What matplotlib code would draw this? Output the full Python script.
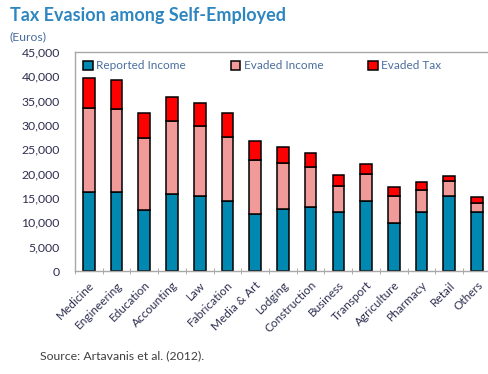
import numpy as np
import matplotlib
matplotlib.use("Agg")
import matplotlib.pyplot as plt
from matplotlib.ticker import FuncFormatter, FixedLocator

# professions and the three stacked components (euros)
professions = ["Medicine", "Engineering", "Education", "Accounting", "Law",
               "Fabrication", "Media & Art", "Lodging", "Construction",
               "Business", "Transport", "Agriculture", "Pharmacy", "Retail",
               "Others"]
reported_income = [16300, 16300, 12500, 15900, 15400, 14400, 11800, 12800,
                   13100, 12200, 14400, 9800, 12200, 15400, 12200]
evaded_income = [17200, 16900, 14800, 14900, 14400, 13200, 11100, 9400,
                 8200, 5300, 5600, 5600, 4400, 3100, 1800]
evaded_tax = [6100, 6100, 5200, 5000, 4700, 4900, 3800, 3200,
              2900, 2300, 2000, 1900, 1700, 1000, 1200]

plt.rcParams['font.family'] = ['Lato', 'DejaVu Sans']

c_rep = "#0088B0"
c_inc = "#F09A9A"
c_tax = "#FF0000"
text_blue = "#4A6E9E"
tick_col = "#2E2E50"

fig = plt.figure(figsize=(4.88, 3.74), dpi=100)
ax = fig.add_axes([0.1537, 0.2754, 0.852, 0.5856])

x = np.arange(len(professions))
rep = np.array(reported_income)
inc = np.array(evaded_income)
tax = np.array(evaded_tax)
w = 0.42
ax.bar(x, rep, w, color=c_rep, edgecolor="black", linewidth=1.1, label="Reported Income")
ax.bar(x, inc, w, bottom=rep, color=c_inc, edgecolor="black", linewidth=1.1, label="Evaded Income")
ax.bar(x, tax, w, bottom=rep + inc, color=c_tax, edgecolor="black", linewidth=1.1, label="Evaded Tax")

ax.set_xlim(-0.5, len(professions) - 0.5)
ax.set_ylim(0, 45000)
ax.set_yticks(np.arange(0, 45001, 5000))
ax.yaxis.set_major_formatter(FuncFormatter(lambda v, p: f"{int(v):,}"))
ax.tick_params(axis="y", length=0, labelsize=8.8, labelcolor=tick_col, pad=11)

ax.set_xticks(x)
ax.set_xticklabels(professions, rotation=45, ha="right", rotation_mode="anchor",
                   fontsize=8.5, color=tick_col)
ax.tick_params(axis="x", which="major", length=0, pad=6)
ax.xaxis.set_minor_locator(FixedLocator(np.arange(-0.5, len(professions), 1)))
ax.tick_params(axis="x", which="minor", length=4, direction="inout", color="#A0A0A0")

for side in ["left", "top", "bottom"]:
    ax.spines[side].set_color("#A8A8A8")
    ax.spines[side].set_linewidth(1.0)
ax.spines["right"].set_visible(False)

leg = ax.legend(loc="upper left", bbox_to_anchor=(0.0, 1.0), ncol=3, frameon=False,
                fontsize=8.5, handlelength=0.8, handleheight=0.8, handletextpad=0.3,
                columnspacing=3.8, borderaxespad=0.3)
for t in leg.get_texts():
    t.set_color(text_blue)

fig.text(0.02, 0.945, "Tax Evasion among Self-Employed", fontsize=13,
         fontweight="bold", color="#2E86C1")
fig.text(0.02, 0.893, "(Euros)", fontsize=8.8, color=text_blue)
fig.text(0.082, 0.038, "Source: Artavanis et al. (2012).", fontsize=8.8, color="#404040")

fig.savefig("out.png", dpi=100)
